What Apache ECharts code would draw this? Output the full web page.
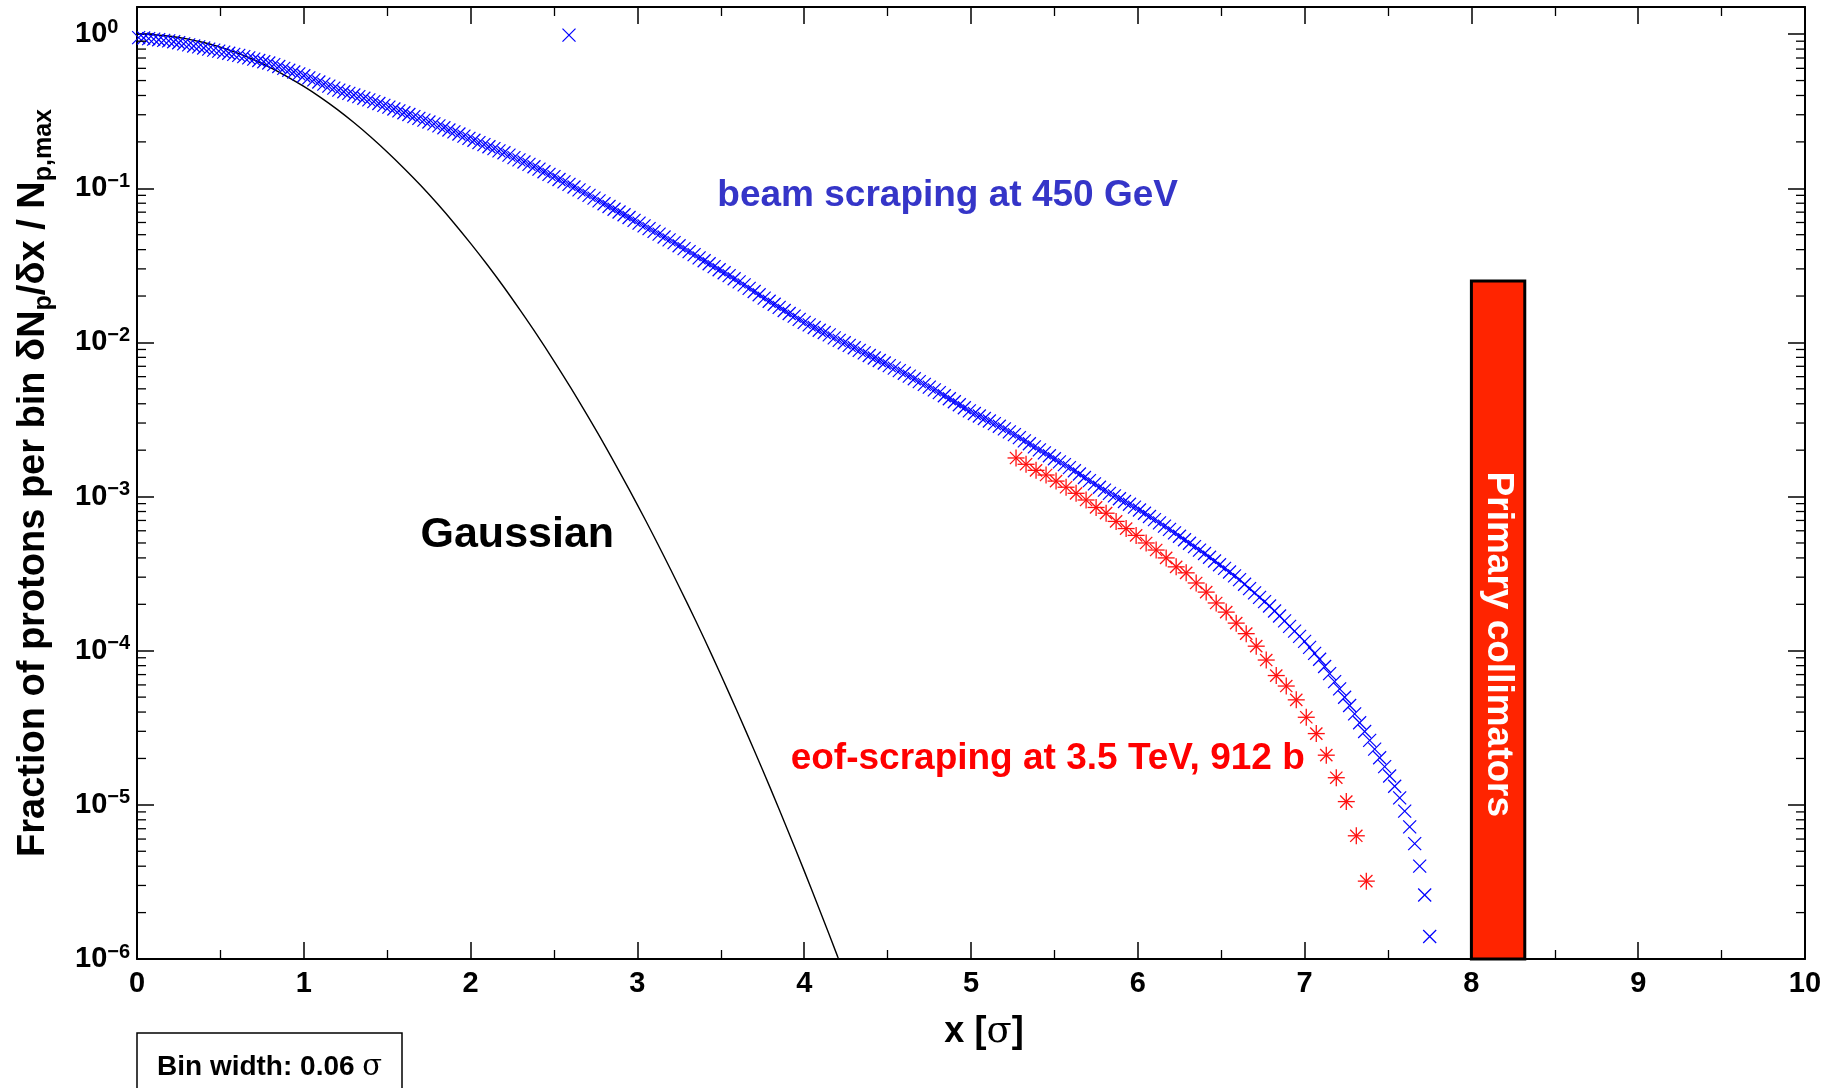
<!DOCTYPE html>
<html>
<head>
<meta charset="utf-8">
<script src="https://cdn.jsdelivr.net/npm/echarts@6/dist/echarts.min.js"></script>
<style>
html,body{margin:0;padding:0;background:#fff;}
#c{width:1836px;height:1088px;}
</style>
</head>
<body>
<div id="c"></div>
<script>
// ---------------- data ----------------
const xTicks = [0,1,2,3,4,5,6,7,8,9,10];
const yDecades = [1e-6,1e-5,1e-4,1e-3,1e-2,1e-1,1];

const gaussX = [0,0.1,0.2,0.3,0.4,0.5,0.6,0.7,0.8,0.9,1.0,1.1,1.2,1.3,1.4,1.5,1.6,1.7,1.8,1.9,2.0,2.1,2.2,2.3,2.4,2.5,2.6,2.7,2.8,2.9,3.0,3.1,3.2,3.3,3.4,3.5,3.6,3.7,3.8,3.9,4.0,4.1,4.2,4.3];
const gaussY = [1,0.992,0.969,0.932,0.882,0.823,0.755,0.682,0.607,0.531,0.458,0.389,0.325,0.267,0.216,0.172,0.135,0.1046,0.0796,0.0596,0.0439,0.0319,0.0228,0.0160,0.0111,0.00757,0.00509,0.00336,0.00219,0.00140,0.000883,0.000549,0.000335,0.000202,0.000120,0.0000698,0.0000400,0.0000226,0.0000126,0.0000069,0.00000373,0.00000198,0.00000104,0.00000053];

const beamX = [
0.01,0.04,0.07,0.10,0.13,0.16,0.19,0.22,0.25,0.28,
0.31,0.34,0.37,0.40,0.43,0.46,0.49,0.52,0.55,0.58,
0.61,0.64,0.67,0.70,0.73,0.76,0.79,0.82,0.85,0.88,
0.91,0.94,0.97,1.00,1.03,1.06,1.09,1.12,1.15,1.18,
1.21,1.24,1.27,1.30,1.33,1.36,1.39,1.42,1.45,1.48,
1.51,1.54,1.57,1.60,1.63,1.66,1.69,1.72,1.75,1.78,
1.81,1.84,1.87,1.90,1.93,1.96,1.99,2.02,2.05,2.08,
2.11,2.14,2.17,2.20,2.23,2.26,2.29,2.32,2.35,2.38,
2.41,2.44,2.47,2.50,2.53,2.56,2.59,2.62,2.65,2.68,
2.71,2.74,2.77,2.80,2.83,2.86,2.89,2.92,2.95,2.98,
3.01,3.04,3.07,3.10,3.13,3.16,3.19,3.22,3.25,3.28,
3.31,3.34,3.37,3.40,3.43,3.46,3.49,3.52,3.55,3.58,
3.61,3.64,3.67,3.70,3.73,3.76,3.79,3.82,3.85,3.88,
3.91,3.94,3.97,4.00,4.03,4.06,4.09,4.12,4.15,4.18,
4.21,4.24,4.27,4.30,4.33,4.36,4.39,4.42,4.45,4.48,
4.51,4.54,4.57,4.60,4.63,4.66,4.69,4.72,4.75,4.78,
4.81,4.84,4.87,4.90,4.93,4.96,4.99,5.02,5.05,5.08,
5.11,5.14,5.17,5.20,5.23,5.26,5.29,5.32,5.35,5.38,
5.41,5.44,5.47,5.50,5.53,5.56,5.59,5.62,5.65,5.68,
5.71,5.74,5.77,5.80,5.83,5.86,5.89,5.92,5.95,5.98,
6.01,6.04,6.07,6.10,6.13,6.16,6.19,6.22,6.25,6.28,
6.31,6.34,6.37,6.40,6.43,6.46,6.49,6.52,6.55,6.58,
6.61,6.64,6.67,6.70,6.73,6.76,6.79,6.82,6.85,6.88,
6.91,6.94,6.97,7.00,7.03,7.06,7.09,7.12,7.15,7.18,
7.21,7.24,7.27,7.30,7.33,7.36,7.39,7.42,7.45,7.48,
7.51,7.54,7.57,7.60,7.63,7.66,7.69,7.72,7.75];
const beamY = [
0.950,0.944,0.936,0.928,0.920,0.912,0.904,0.892,0.879,0.865,
0.851,0.838,0.826,0.813,0.800,0.788,0.776,0.764,0.752,0.740,
0.728,0.714,0.701,0.688,0.675,0.662,0.650,0.634,0.617,0.600,
0.583,0.568,0.552,0.537,0.520,0.505,0.489,0.474,0.460,0.446,
0.433,0.423,0.413,0.403,0.393,0.384,0.375,0.365,0.355,0.345,
0.336,0.327,0.318,0.309,0.301,0.292,0.284,0.277,0.269,0.262,
0.254,0.247,0.239,0.232,0.225,0.218,0.211,0.205,0.198,0.192,
0.186,0.181,0.175,0.170,0.164,0.158,0.153,0.148,0.143,0.138,
0.133,0.128,0.123,0.119,0.114,0.110,0.106,0.102,0.0977,0.0938,
0.0899,0.0863,0.0828,0.0794,0.0762,0.0731,0.0702,0.0673,0.0646,0.0619,
0.0594,0.0570,0.0547,0.0525,0.0504,0.0483,0.0463,0.0444,0.0424,0.0406,
0.0388,0.0371,0.0354,0.0339,0.0324,0.0310,0.0296,0.0283,0.0271,0.0259,
0.0247,0.0236,0.0224,0.0214,0.0204,0.0194,0.0185,0.0177,0.0169,0.0161,
0.0154,0.0148,0.0141,0.0135,0.0130,0.0125,0.0120,0.0116,0.0112,0.0107,
0.0103,0.00995,0.00958,0.00923,0.00888,0.00855,0.00823,0.00793,0.00763,0.00735,
0.00707,0.00681,0.00656,0.00631,0.00605,0.00581,0.00557,0.00535,0.00513,0.00492,
0.00472,0.00451,0.00431,0.00412,0.00394,0.00377,0.00360,0.00346,0.00333,0.00321,
0.00309,0.00297,0.00286,0.00275,0.00263,0.00252,0.00241,0.00230,0.00220,0.00210,
0.00201,0.00192,0.00184,0.00176,0.00168,0.00161,0.00154,0.00147,0.00140,0.00133,
0.00127,0.00121,0.00115,0.00110,0.00105,0.00101,0.000968,0.000929,0.000891,0.000855,
0.000818,0.000780,0.000743,0.000708,0.000675,0.000643,0.000612,0.000582,0.000553,0.000525,
0.000498,0.000473,0.000449,0.000427,0.000404,0.000382,0.000361,0.000342,0.000324,0.000306,
0.000289,0.000270,0.000253,0.000237,0.000222,0.000208,0.000195,0.000181,0.000168,0.000156,
0.000144,0.000134,0.000124,0.000115,0.000105,0.0000960,0.0000880,0.0000790,0.0000710,0.0000630,
0.0000565,0.0000499,0.0000441,0.0000389,0.0000341,0.0000299,0.0000262,0.0000230,0.0000202,0.0000177,
0.0000154,0.0000132,0.0000111,0.0000091,0.0000072,0.0000056,0.0000040,0.0000026,0.0000014];

const outlierX = [2.59];
const outlierY = [0.985];

const eofX = [5.27,5.33,5.39,5.45,5.51,5.57,5.63,5.69,5.75,5.81,5.87,5.93,5.99,6.05,6.11,6.17,6.23,6.29,6.35,6.41,6.47,6.53,6.59,6.65,6.71,6.77,6.83,6.89,6.95,7.01,7.07,7.13,7.19,7.25,7.31,7.37];
const eofY = [1.78e-3,1.62e-3,1.48e-3,1.38e-3,1.26e-3,1.15e-3,1.05e-3,9.5e-4,8.5e-4,7.8e-4,6.9e-4,6.2e-4,5.6e-4,5.0e-4,4.5e-4,4.0e-4,3.5e-4,3.2e-4,2.75e-4,2.4e-4,2.04e-4,1.78e-4,1.51e-4,1.29e-4,1.07e-4,8.7e-5,6.9e-5,5.9e-5,4.8e-5,3.7e-5,2.9e-5,2.1e-5,1.5e-5,1.05e-5,6.3e-6,3.2e-6];

// collimator band: [x from, x to, y bottom, y top]
const collimator = [8.0, 8.32, 1e-6, 0.025];

// annotation anchors in data coordinates
const labels = [
  {text:'beam scraping at 450 GeV', x:4.86, y:0.089, color:'#3535C8', size:37},
  {text:'Gaussian', x:2.28, y:5.6e-4, color:'#000000', size:43},
  {text:'eof-scraping at 3.5 TeV, 912 b', x:5.46, y:2.0e-5, color:'#FF0000', size:37}
];
const collimatorLabel = {text:'Primary collimators', x:8.16, y:1.1e-4};

// ---------------- chart ----------------
const FONT = '"Liberation Sans", Arial, Helvetica, sans-serif';
const xMin = 0, xMax = 10, yMin = 1e-6, yMax = 1.5;
const MAJOR = 17, MINOR = 9;

const yMinor = [];
yDecades.slice(0, -1).forEach(d => { for (let m = 2; m <= 9; m++) yMinor.push(m * d); });

function supLabel(v) {
  const l = Math.log10(v);
  const e = Math.round(l);
  if (Math.abs(l - e) > 0.01) return '';
  return '{b|10}{s|' + (e < 0 ? '\u2212' + (-e) : String(e)) + '}';
}

const chart = echarts.init(document.getElementById('c'));

function markerSeries(name, xs, ys, kind, color, size, lw, z) {
  return {
    name, type: 'custom', coordinateSystem: 'cartesian2d', z,
    silent: true, animation: false,
    data: xs.map((x, i) => [x, ys[i]]),
    encode: {x: 0, y: 1},
    renderItem: (params, api) => {
      const p = api.coord([api.value(0), api.value(1)]);
      const h = size / 2;
      const st = {stroke: color, lineWidth: lw, fill: null};
      const ch = [];
      if (kind === 'x' || kind === '*') {
        const d = kind === '*' ? h * 0.72 : h;
        ch.push({type: 'line', shape: {x1: p[0] - d, y1: p[1] - d, x2: p[0] + d, y2: p[1] + d}, style: st});
        ch.push({type: 'line', shape: {x1: p[0] - d, y1: p[1] + d, x2: p[0] + d, y2: p[1] - d}, style: st});
      }
      if (kind === '*') {
        ch.push({type: 'line', shape: {x1: p[0] - h, y1: p[1], x2: p[0] + h, y2: p[1]}, style: st});
        ch.push({type: 'line', shape: {x1: p[0], y1: p[1] - h, x2: p[0], y2: p[1] + h}, style: st});
      }
      return {type: 'group', children: ch};
    }
  };
}

const axisLineStyle = {color: '#000', width: 2};
const tickStyle = {color: '#000', width: 1.5};
const minorStyle = {color: '#000', width: 1.3};

const option = {
  backgroundColor: '#fff',
  animation: false,
  grid: {left: 137, right: 31, top: 7, bottom: 129, containLabel: false, outerBoundsMode: 'none'},
  xAxis: [{
    type: 'value', min: xMin, max: xMax, interval: 1, position: 'bottom',
    axisLine: {show: true, onZero: false, lineStyle: axisLineStyle},
    axisTick: {show: true, inside: true, length: MAJOR, lineStyle: tickStyle},
    minorTick: {show: true, splitNumber: 2, length: MINOR, lineStyle: minorStyle},
    splitLine: {show: false}, minorSplitLine: {show: false},
    axisLabel: {color: '#000', fontFamily: FONT, fontWeight: 'bold', fontSize: 29, margin: 10,
      formatter: v => (xTicks.indexOf(v) >= 0 ? String(v) : '')},
    name: 'x [{g|σ}]', nameLocation: 'middle', nameGap: 52,
    nameTextStyle: {color: '#000', fontFamily: FONT, fontWeight: 'bold', fontSize: 36, lineHeight: 42,
      padding: [0, 0, 0, 26],
      rich: {g: {fontFamily: '"DejaVu Serif", "Liberation Serif", serif', fontWeight: 'normal', fontSize: 37, color: '#000', lineHeight: 42}}}
  }, {
    type: 'value', min: xMin, max: xMax, interval: 1, position: 'top',
    axisLine: {show: true, onZero: false, lineStyle: axisLineStyle},
    axisTick: {show: true, inside: true, length: MAJOR, lineStyle: tickStyle},
    minorTick: {show: true, splitNumber: 2, length: MINOR, lineStyle: minorStyle},
    splitLine: {show: false}, axisLabel: {show: false}
  }],
  yAxis: [{
    type: 'log', logBase: 10, min: yMin, max: yMax, interval: 1, position: 'left',
    axisLine: {show: true, onZero: false, lineStyle: axisLineStyle},
    axisTick: {show: true, inside: true, length: MAJOR, lineStyle: tickStyle},
    splitLine: {show: false},
    axisLabel: {color: '#000', align: 'left', margin: 62, formatter: supLabel,
      rich: {
        b: {fontFamily: FONT, fontWeight: 'bold', fontSize: 29, lineHeight: 34, color: '#000'},
        s: {fontFamily: FONT, fontWeight: 'bold', fontSize: 20, lineHeight: 2, verticalAlign: 'top', color: '#000'}
      }},
    name: 'Fraction of protons per bin δN{sub|p}/δx / N{sub|p,max}',
    nameLocation: 'middle', nameGap: 80, nameRotate: 90,
    nameTextStyle: {color: '#000', fontFamily: FONT, fontWeight: 'bold', fontSize: 38, lineHeight: 46,
      rich: {sub: {fontFamily: FONT, fontWeight: 'bold', fontSize: 25, lineHeight: 10, verticalAlign: 'bottom', color: '#000'}}}
  }, {
    type: 'log', logBase: 10, min: yMin, max: yMax, interval: 1, position: 'right',
    axisLine: {show: true, onZero: false, lineStyle: axisLineStyle},
    axisTick: {show: true, inside: true, length: MAJOR, lineStyle: tickStyle},
    splitLine: {show: false}, axisLabel: {show: false}
  }],
  series: [
    {
      name: 'collimator', type: 'custom', coordinateSystem: 'cartesian2d', z: 1, silent: true,
      data: [collimator],
      renderItem: (params, api) => {
        const a = api.coord([api.value(0), api.value(3)]);
        const b = api.coord([api.value(1), api.value(2)]);
        return {type: 'rect', shape: {x: a[0], y: a[1], width: b[0] - a[0], height: b[1] - a[1]},
          style: {fill: '#FF2400', stroke: '#000', lineWidth: 3}};
      }
    },
    {
      name: 'minorY', type: 'custom', coordinateSystem: 'cartesian2d', z: 6, silent: true, clip: false,
      data: yMinor.map(v => [xMin, v]),
      renderItem: (params, api) => {
        const v = api.value(1);
        const a = api.coord([xMin, v]);
        const b = api.coord([xMax, v]);
        return {type: 'group', children: [
          {type: 'line', shape: {x1: a[0], y1: a[1], x2: a[0] + MINOR, y2: a[1]}, style: {stroke: '#000', lineWidth: 1.3}},
          {type: 'line', shape: {x1: b[0] - MINOR, y1: b[1], x2: b[0], y2: b[1]}, style: {stroke: '#000', lineWidth: 1.3}}
        ]};
      }
    },
    {
      name: 'Gaussian', type: 'line', z: 2, silent: true,
      data: gaussX.map((x, i) => [x, gaussY[i]]),
      showSymbol: false, smooth: 0.3, clip: true,
      lineStyle: {color: '#000', width: 1.4}
    },
    markerSeries('beam scraping at 450 GeV', beamX, beamY, 'x', '#0000FF', 13, 1.2, 3),
    markerSeries('outlier', outlierX, outlierY, 'x', '#0000FF', 13, 1.2, 3),
    markerSeries('eof-scraping at 3.5 TeV, 912 b', eofX, eofY, '*', '#FF1010', 17, 1.3, 4)
  ]
};
chart.setOption(option);

// annotations positioned through the chart's own scales
const g = [];
labels.forEach(l => {
  const p = chart.convertToPixel({xAxisIndex: 0, yAxisIndex: 0}, [l.x, l.y]);
  g.push({type: 'text', x: p[0], y: p[1], z: 10,
    style: {text: l.text, fill: l.color, font: 'bold ' + l.size + 'px ' + FONT, textAlign: 'center', textVerticalAlign: 'middle'}});
});
const pc = chart.convertToPixel({xAxisIndex: 0, yAxisIndex: 0}, [collimatorLabel.x, collimatorLabel.y]);
g.push({type: 'text', x: pc[0], y: pc[1], rotation: -Math.PI / 2, z: 10,
  style: {text: collimatorLabel.text, fill: '#FFFFFF', font: 'bold 37px ' + FONT, textAlign: 'center', textVerticalAlign: 'middle'}});
// bin width box
const p0 = chart.convertToPixel({xAxisIndex: 0, yAxisIndex: 0}, [xMin, yMin]);
g.push({type: 'rect', shape: {x: p0[0], y: 1033, width: 265, height: 80}, z: 10,
  style: {fill: '#fff', stroke: '#000', lineWidth: 1.5}});
g.push({type: 'text', x: p0[0] + 20, y: 1067, z: 11,
  style: {text: 'Bin width: 0.06 {g|σ}', fill: '#000', font: 'bold 28px ' + FONT, textVerticalAlign: 'middle',
    rich: {g: {fontFamily: '"DejaVu Serif", "Liberation Serif", serif', fontSize: 29, fontWeight: 'normal', fill: '#000'}}}});
chart.setOption({graphic: {elements: g}});
</script>
</body>
</html>
